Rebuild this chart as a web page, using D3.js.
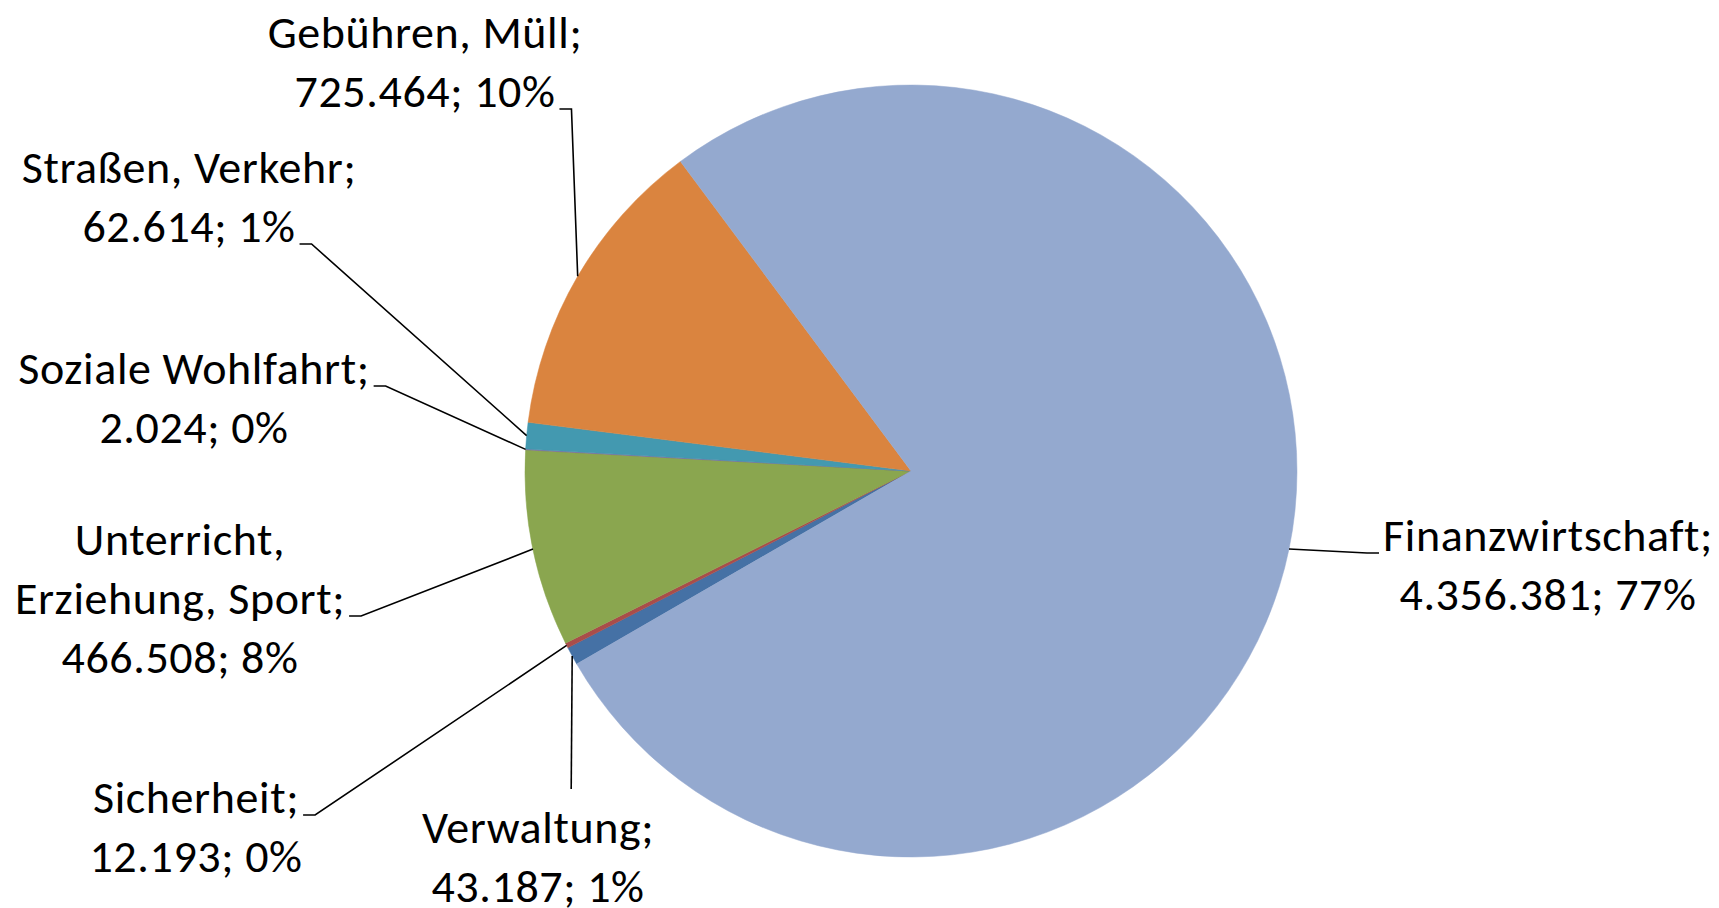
<!DOCTYPE html>
<html>
<head>
<meta charset="utf-8">
<script src="https://cdn.jsdelivr.net/npm/d3@7"></script>
<style>
  html, body { margin: 0; padding: 0; background: #fff; }
  .label { font-family: Carlito, Calibri, Lato, sans-serif; font-size: 46px; letter-spacing: 0.6px; fill: #000; }
  .leader { fill: none; stroke: #000; stroke-width: 1.6px; }
</style>
</head>
<body>
<script>
// data, in the order Excel draws the slices (clockwise)
const categories = ['Verwaltung', 'Sicherheit', 'Unterricht, Erziehung, Sport', 'Soziale Wohlfahrt',
  'Straßen, Verkehr', 'Gebühren, Müll', 'Finanzwirtschaft'];
const values = [43187, 12193, 466508, 2024, 62614, 725464, 4356381];
const valueLabels = ['43.187', '12.193', '466.508', '2.024', '62.614', '725.464', '4.356.381'];
const percentLabels = ['1%', '0%', '8%', '0%', '1%', '10%', '77%'];
const colors = ['#4571A5', '#A94D4A', '#8AA64F', '#7F67A0', '#4399B0', '#DA843F', '#94A9CF'];

const config = {
  width: 1719,
  height: 908,
  cx: 911,
  cy: 471,
  r: 386,
  lineHeight: 59,
  startDeg: 240
};

// label block layout: centre x, first baseline, where the leader attaches
// side: 'right' -> stub to the right of line `line`, 'left' -> stub to the left, 'top' -> line ends above block
const labelLayout = [
  { x: 538, y: 843, side: 'top', stubY: 789 },
  { x: 196, y: 813, side: 'right', line: 0 },
  { x: 180, y: 555, side: 'right', line: 1 },
  { x: 194, y: 384, side: 'right', line: 0 },
  { x: 189, y: 183, side: 'right', line: 1 },
  { x: 425, y: 48, side: 'right', line: 1 },
  { x: 1548, y: 551, side: 'left', line: 0 }
];

const svg = d3.select('body')
  .append('svg')
  .attr('width', config.width)
  .attr('height', config.height);

const g = svg.append('g')
  .attr('transform', `translate(${config.cx}, ${config.cy})`);

const start = config.startDeg * Math.PI / 180;
const pie = d3.pie()
  .sort(null)
  .value(d => d)
  .startAngle(start)
  .endAngle(start + 2 * Math.PI);

const arcs = pie(values);

const arc = d3.arc().innerRadius(0).outerRadius(config.r);

g.selectAll('path.slice')
  .data(arcs)
  .enter()
  .append('path')
  .attr('class', 'slice')
  .attr('d', arc)
  .attr('fill', (d, i) => colors[i])
  .attr('stroke', (d, i) => colors[i])
  .attr('stroke-width', 0.5);

// split the category into label lines
function labelLines(i) {
  const name = categories[i];
  const lines = [];
  if (name.startsWith('Unterricht')) {
    const k = name.indexOf(',');
    lines.push(name.slice(0, k + 1));
    lines.push(name.slice(k + 2) + ';');
  } else {
    lines.push(name + ';');
  }
  lines.push(`${valueLabels[i]}; ${percentLabels[i]}`);
  return lines;
}

const labels = svg.append('g');

arcs.forEach((d, i) => {
  const lay = labelLayout[i];
  const lines = labelLines(i);
  const t = labels.append('text')
    .attr('class', 'label')
    .attr('text-anchor', 'middle');
  const spans = lines.map((s, j) => t.append('tspan')
    .attr('x', lay.x)
    .attr('y', lay.y + j * config.lineHeight)
    .text(s));

  // point on the rim at the middle of the slice
  const mid = (d.startAngle + d.endAngle) / 2;
  const px = config.cx + config.r * Math.sin(mid);
  const py = config.cy - config.r * Math.cos(mid);

  let pts;
  if (lay.side === 'top') {
    pts = [[px, py], [px - 1, lay.stubY]];
  } else {
    const w = spans[lay.line].node().getComputedTextLength();
    const sy = lay.y + lay.line * config.lineHeight + 2;
    if (lay.side === 'right') {
      const x0 = lay.x + w / 2 + 4;
      pts = [[x0, sy], [x0 + 12, sy], [px, py]];
    } else {
      const x0 = lay.x - w / 2 - 4;
      pts = [[x0, sy], [x0 - 12, sy], [px, py]];
    }
  }
  labels.append('path')
    .attr('class', 'leader')
    .attr('d', d3.line()(pts));
});
</script>
</body>
</html>
